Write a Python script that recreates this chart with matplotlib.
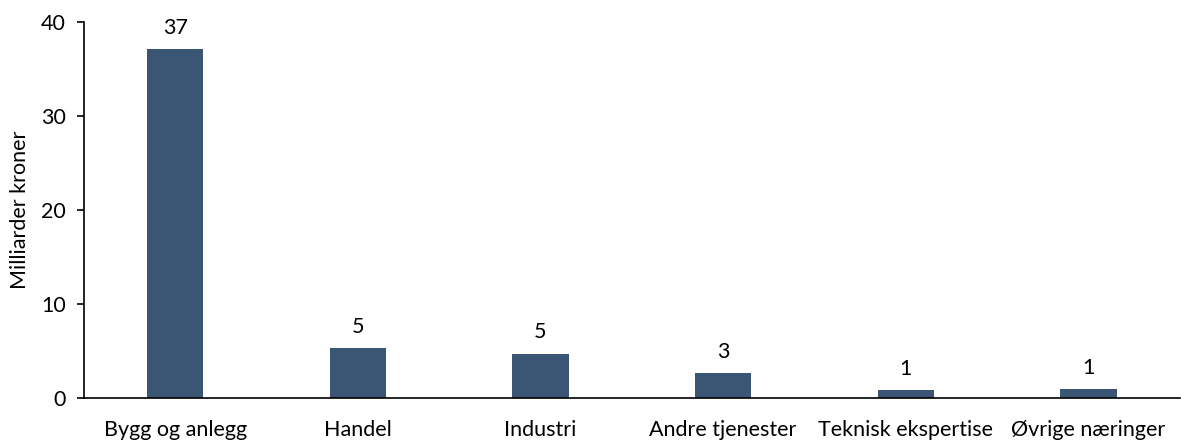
import numpy as np
import matplotlib.pyplot as plt

plt.rcParams['font.family'] = ['Lato', 'DejaVu Sans']

kategorier = ['Bygg og anlegg', 'Handel', 'Industri', 'Andre tjenester',
              'Teknisk ekspertise', 'Øvrige næringer']
verdier = [37.1, 5.3, 4.7, 2.6, 0.8, 0.9]
etiketter = ['37', '5', '5', '3', '1', '1']

fig = plt.figure(figsize=(11.81, 4.43), dpi=100)
ax = fig.add_axes([0.071, 0.102, 0.928, 0.848])

x = np.arange(len(kategorier))
ax.bar(x, verdier, width=0.31, color='#3b5675')
for xi, v, t in zip(x, verdier, etiketter):
    ax.text(xi, v + 1.2, t, ha='center', va='bottom', fontsize=15.5)

ax.set_xlim(-0.5, 5.5)
ax.set_ylim(0, 40)
ax.set_yticks([0, 10, 20, 30, 40])
ax.set_xticks(x)
ax.set_xticklabels(kategorier)
ax.tick_params(axis='x', length=0, labelsize=15.5, pad=16)
ax.tick_params(axis='y', length=5, width=1.2, labelsize=15.5, pad=8)
ax.set_ylabel('Milliarder kroner', fontsize=15.5, labelpad=8)

ax.spines['top'].set_visible(False)
ax.spines['right'].set_visible(False)
ax.spines['left'].set_linewidth(1.2)
ax.spines['bottom'].set_linewidth(1.2)

plt.savefig('out.png', dpi=100)
